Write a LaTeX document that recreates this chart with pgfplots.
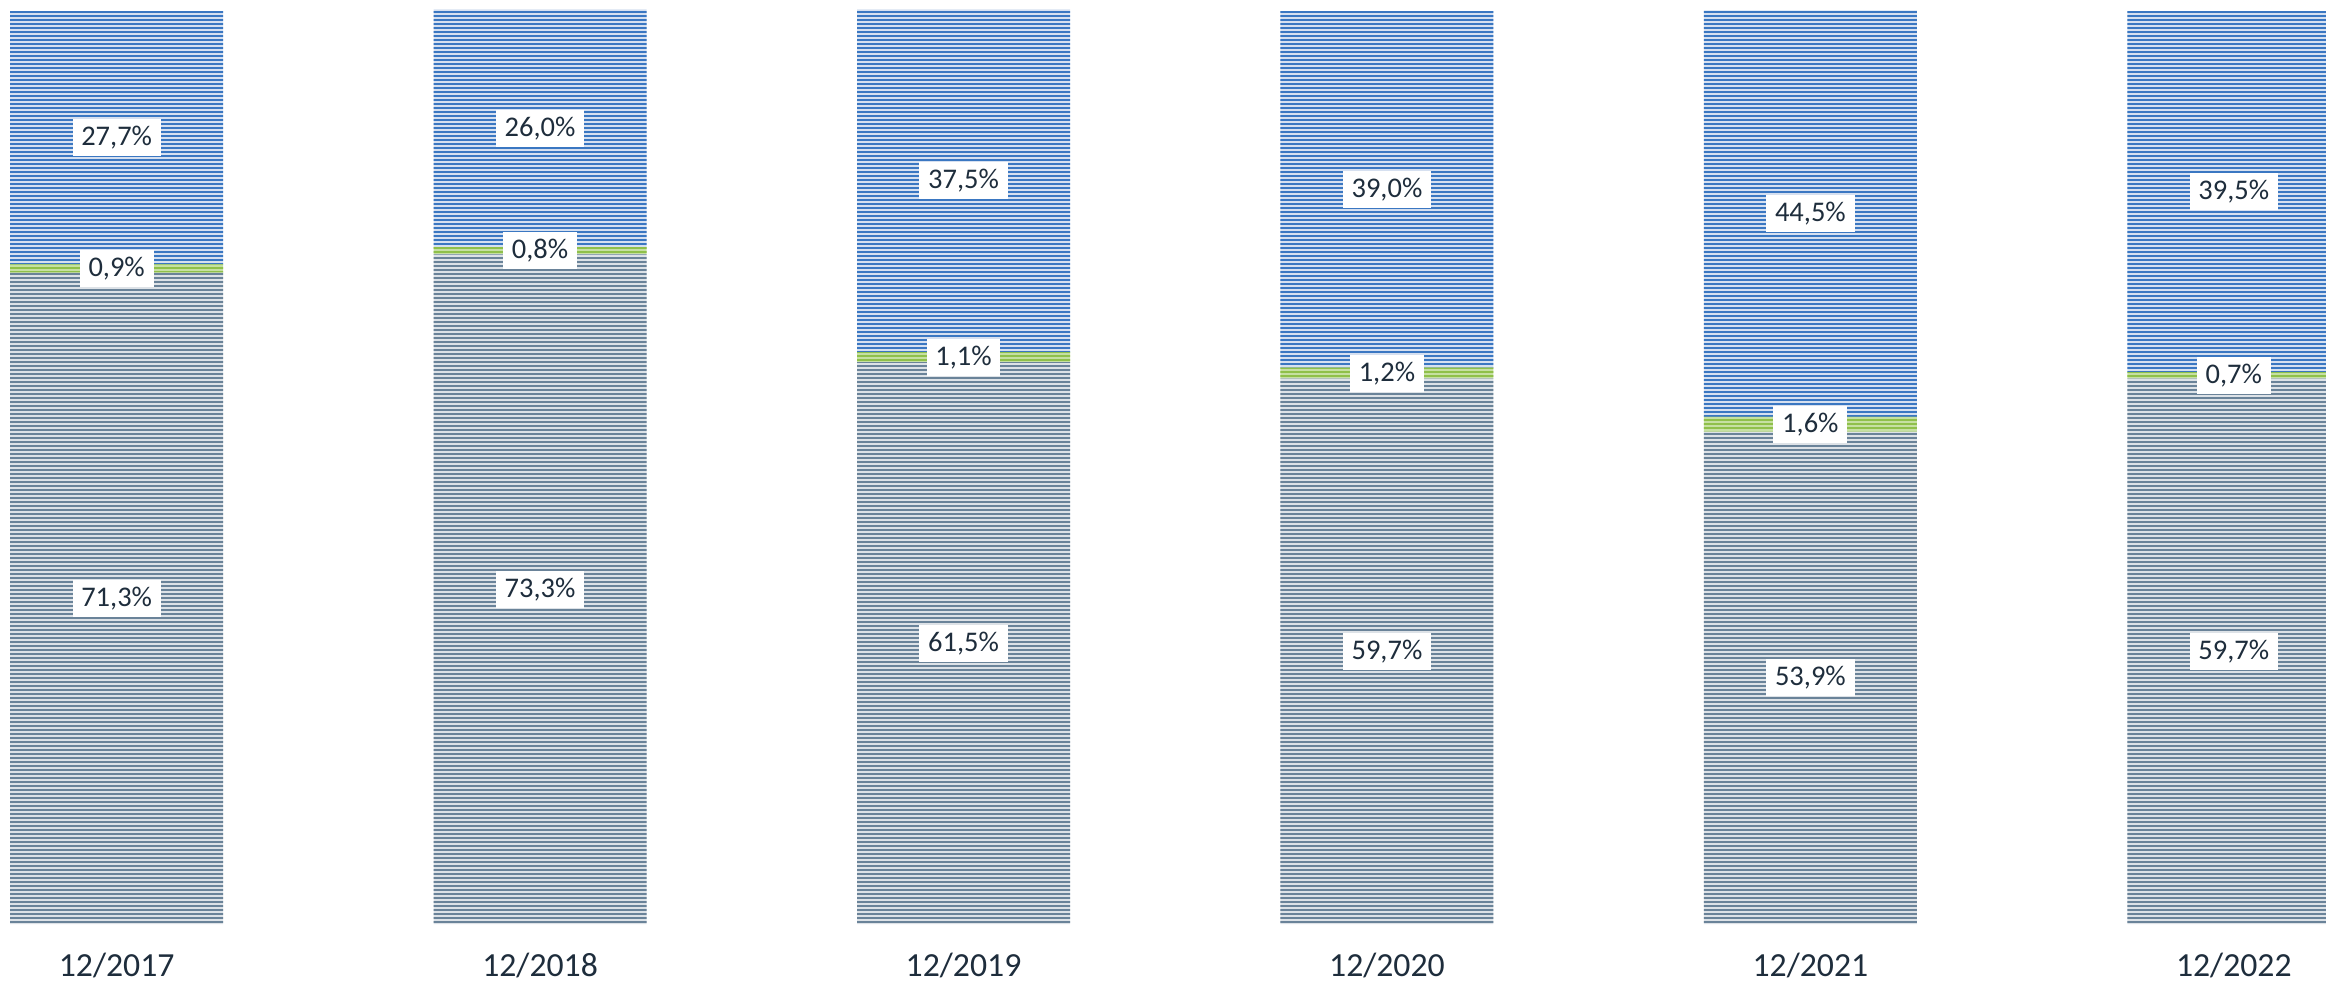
\documentclass[border=0pt]{standalone}
\usepackage{pgfplots}
\pgfplotsset{compat=1.18}
\usepackage{fontspec}
\setmainfont{Carlito}
\usetikzlibrary{patterns.meta}
\pgfdeclarepattern{
  name=hstripes,
  type=uncolored,
  bottom left={\pgfpoint{0pt}{0pt}},
  top right={\pgfpoint{60pt}{1.19pt}},
  tile size={\pgfpoint{60pt}{1.19pt}},
  code={
    \pgfpathrectangle{\pgfpoint{-1pt}{0pt}}{\pgfpoint{62pt}{0.6pt}}
    \pgfusepath{fill}
  }
}
\definecolor{bluedark}{HTML}{3A77C2}
\definecolor{bluelight}{HTML}{D6E0F0}
\definecolor{greendark}{HTML}{8FC04A}
\definecolor{greenlight}{HTML}{C6E0A2}
\definecolor{greydark}{HTML}{6A8399}
\definecolor{greylight}{HTML}{DDE2E7}
\definecolor{navy}{HTML}{1E2D3C}
\pgfplotsset{base/.style={
  scale only axis, width=23.26cm, height=9.80cm,
  xmin=-0.2751, xmax=5.2173, ymin=-6.127, ymax=101.094,
}}
\begin{document}
\begin{tikzpicture}
\begin{axis}[base, ybar stacked, bar width=0.503,
  axis line style={draw=white, line width=0.1pt},
  major tick length=0pt, ytick=\empty,
  xtick={0,1,2,3,4,5},
  xticklabels={12/2017,12/2018,12/2019,12/2020,12/2021,12/2022},
  xticklabel style={anchor=base, yshift=0.035cm, inner sep=0pt, text depth=0pt, text=navy, font=\fontsize{9.6}{11}\selectfont},
]
\addplot[fill=greylight, draw=none,
  postaction={pattern=hstripes, pattern color=greydark}]
  coordinates {(0,71.3) (1,73.3) (2,61.5) (3,59.7) (4,53.9) (5,59.7)};
\addplot[fill=greenlight, draw=none,
  postaction={pattern=hstripes, pattern color=greendark}]
  coordinates {(0,0.9) (1,0.8) (2,1.1) (3,1.2) (4,1.6) (5,0.7)};
\addplot[fill=bluelight, draw=none,
  postaction={pattern=hstripes, pattern color=bluedark}]
  coordinates {(0,27.7) (1,26.0) (2,37.5) (3,39.0) (4,44.5) (5,39.5)};
\end{axis}
\begin{axis}[base, hide axis]
\addplot[draw=none, mark=none, nodes near coords, nodes near coords align=center,
  point meta=explicit symbolic,
  every node near coord/.append style={anchor=center, fill=white, text=navy,
    font=\fontsize{8.1}{9}\selectfont, inner xsep=2.5pt, inner ysep=0pt, minimum height=0.37cm}]
  table[meta=lab, row sep=\\] {
  x y lab \\
  0 35.65 71,3\% \\
  0 71.75 0,9\% \\
  0 86.05 27,7\% \\
  1 36.65 73,3\% \\
  1 73.70 0,8\% \\
  1 87.10 26,0\% \\
  2 30.75 61,5\% \\
  2 62.05 1,1\% \\
  2 81.35 37,5\% \\
  3 29.85 59,7\% \\
  3 60.30 1,2\% \\
  3 80.40 39,0\% \\
  4 26.95 53,9\% \\
  4 54.70 1,6\% \\
  4 77.75 44,5\% \\
  5 29.85 59,7\% \\
  5 60.05 0,7\% \\
  5 80.15 39,5\% \\
  };
\end{axis}
\end{tikzpicture}
\end{document}
